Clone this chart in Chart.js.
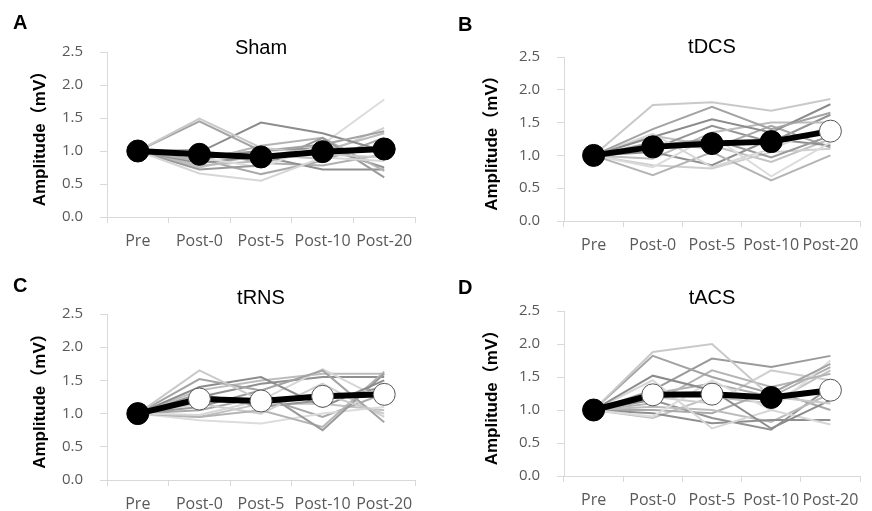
<!DOCTYPE html>
<html>
<head>
<meta charset="utf-8">
<script src="https://cdn.jsdelivr.net/npm/chart.js@4/dist/chart.umd.min.js"></script>
<style>
  html, body { margin: 0; padding: 0; background: #fff; }
  #wrap { position: relative; width: 872px; height: 511px; overflow: hidden; }
  .panel { position: absolute; width: 436px; height: 255px; }
  .letter { position: absolute; font: bold 20px "Liberation Sans", Arial, sans-serif; line-height: 20px; color: #000; }
</style>
</head>
<body>
<div id="wrap">
  <div class="panel" style="left:0;top:0"><canvas id="chartA" width="436" height="255"></canvas></div>
  <div class="panel" style="left:436px;top:0"><canvas id="chartB" width="436" height="255"></canvas></div>
  <div class="panel" style="left:0;top:255px"><canvas id="chartC" width="436" height="255"></canvas></div>
  <div class="panel" style="left:436px;top:255px"><canvas id="chartD" width="436" height="255"></canvas></div>
  <div class="letter" style="left:13px;top:12px">A</div>
  <div class="letter" style="left:458px;top:14px">B</div>
  <div class="letter" style="left:13px;top:275px">C</div>
  <div class="letter" style="left:458px;top:277px">D</div>
</div>
<script>
const categories = ["Pre", "Post-0", "Post-5", "Post-10", "Post-20"];
const yTitle = "Amplitude（mV）";

// group means (thick black line); true = filled black marker, false = open white marker
const shamMean = [1.0, 0.95, 0.91, 0.99, 1.03];
const shamFilled = [true, true, true, true, true];
const tdcsMean = [1.0, 1.13, 1.18, 1.21, 1.37];
const tdcsFilled = [true, true, true, true, false];
const trnsMean = [1.0, 1.22, 1.19, 1.26, 1.29];
const trnsFilled = [true, false, false, false, false];
const tacsMean = [1.0, 1.23, 1.24, 1.19, 1.30];
const tacsFilled = [true, false, false, true, false];

// individual subjects (thin grey lines)
const shamSubjects = [
  [1.0, 1.49, 1.05, 0.95, 0.90],
  [1.0, 1.45, 1.00, 1.10, 1.30],
  [1.0, 0.98, 1.43, 1.27, 1.00],
  [1.0, 0.66, 0.55, 0.90, 0.85],
  [1.0, 0.72, 0.78, 1.20, 0.60],
  [1.0, 0.85, 1.08, 1.20, 0.70],
  [1.0, 0.90, 0.75, 1.10, 1.78],
  [1.0, 0.82, 0.92, 0.72, 0.72],
  [1.0, 0.78, 0.85, 1.00, 1.27],
  [1.0, 0.95, 0.88, 0.95, 1.35],
  [1.0, 0.88, 0.65, 0.85, 1.20],
  [1.0, 0.92, 1.00, 1.05, 0.75],
  [1.0, 0.75, 0.95, 0.88, 1.10],
  [1.0, 1.02, 0.82, 0.78, 0.95]
];
const tdcsSubjects = [
  [1.0, 1.77, 1.81, 1.68, 1.86],
  [1.0, 1.40, 1.74, 1.40, 1.65],
  [1.0, 1.28, 1.55, 1.35, 1.78],
  [1.0, 1.33, 0.82, 1.10, 1.45],
  [1.0, 1.15, 1.25, 0.97, 1.30],
  [1.0, 0.70, 1.05, 0.62, 1.00],
  [1.0, 0.82, 1.30, 0.68, 1.20],
  [1.0, 1.05, 0.85, 1.25, 1.15],
  [1.0, 0.95, 1.35, 1.50, 1.50],
  [1.0, 0.85, 0.80, 1.05, 1.10],
  [1.0, 1.20, 1.10, 1.45, 1.12],
  [1.0, 1.10, 1.45, 1.20, 1.62],
  [1.0, 1.30, 1.15, 0.90, 1.25]
];
const trnsSubjects = [
  [1.0, 1.65, 1.20, 1.30, 1.00],
  [1.0, 1.52, 1.35, 1.65, 0.87],
  [1.0, 1.40, 1.55, 1.10, 1.50],
  [1.0, 0.98, 1.20, 1.67, 1.20],
  [1.0, 1.10, 1.35, 0.75, 1.60],
  [1.0, 0.95, 1.05, 0.80, 1.63],
  [1.0, 0.90, 0.85, 1.00, 1.10],
  [1.0, 1.25, 1.45, 1.55, 1.55],
  [1.0, 1.35, 1.50, 1.60, 1.60],
  [1.0, 1.15, 1.00, 1.45, 0.95],
  [1.0, 1.05, 1.25, 0.95, 1.30],
  [1.0, 1.30, 1.10, 1.20, 1.40],
  [1.0, 0.95, 1.15, 1.15, 1.05]
];
const tacsSubjects = [
  [1.0, 1.88, 2.00, 1.20, 1.10],
  [1.0, 1.82, 1.50, 1.25, 1.70],
  [1.0, 1.52, 1.30, 0.72, 1.15],
  [1.0, 1.45, 0.72, 1.00, 0.78],
  [1.0, 1.30, 1.78, 1.65, 1.82],
  [1.0, 1.10, 1.60, 1.35, 1.55],
  [1.0, 0.90, 1.45, 1.00, 1.75],
  [1.0, 0.95, 0.80, 0.85, 0.85],
  [1.0, 1.05, 1.00, 0.82, 1.25],
  [1.0, 1.20, 1.10, 1.60, 1.45],
  [1.0, 1.00, 0.95, 1.30, 1.00],
  [1.0, 1.15, 0.88, 0.70, 1.35],
  [1.0, 0.88, 1.20, 1.10, 1.60],
  [1.0, 1.25, 1.40, 1.20, 1.65]
];

const shades = ["#c9c9c9", "#a3a3a3", "#8c8c8c", "#d6d6d6", "#9a9a9a", "#b4b4b4",
  "#dcdcdc", "#8f8f8f", "#bcbcbc", "#cfcfcf", "#a9a9a9", "#939393", "#c2c2c2", "#b0b0b0"];

function makePanel(id, title, mean, filled, subjects, box) {
  const datasets = [{
    data: mean,
    borderColor: "#000",
    borderWidth: 6,
    pointRadius: 11,
    pointBackgroundColor: filled.map(f => f ? "#000" : "#fff"),
    pointBorderColor: filled.map(f => f ? "#000" : "#555"),
    pointBorderWidth: 1
  }];
  subjects.forEach((s, i) => {
    datasets.push({ data: s, borderColor: shades[i % shades.length], borderWidth: 2, pointRadius: 0 });
  });

  const titlePlugin = {
    id: "panelTitle",
    afterDraw(chart) {
      const ctx = chart.ctx, a = chart.chartArea;
      ctx.save();
      ctx.font = '20px "Liberation Sans", Arial, sans-serif';
      ctx.fillStyle = "#000";
      ctx.textAlign = "center";
      ctx.textBaseline = "middle";
      ctx.fillText(title, (a.left + a.right) / 2, box.titleY);
      ctx.restore();
    }
  };

  new Chart(document.getElementById(id), {
    type: "line",
    data: { labels: categories, datasets },
    options: {
      responsive: false,
      animation: false,
      events: [],
      elements: { line: { tension: 0 } },
      layout: { padding: { left: 0, top: box.top, right: 436 - box.right, bottom: 0 } },
      plugins: { legend: { display: false }, tooltip: { enabled: false } },
      scales: {
        x: {
          offset: true,
          grid: { offset: true, drawOnChartArea: false, tickLength: 6, color: "#d9d9d9" },
          border: { color: "#d9d9d9" },
          ticks: { color: "#595959", font: { family: '"Open Sans", sans-serif', size: 16 }, padding: 9, maxRotation: 0, autoSkip: false },
          afterFit: s => { s.height = 255 - box.bottom; }
        },
        y: {
          min: 0,
          max: 2.5,
          grid: { drawOnChartArea: false, tickLength: 7, color: "#d9d9d9" },
          border: { color: "#d9d9d9" },
          ticks: { stepSize: 0.5, color: "#595959", padding: 17,
            font: { family: '"Open Sans", sans-serif', size: 15 },
            callback: v => v.toFixed(1) },
          title: { display: true, text: yTitle, color: "#000",
            font: { family: '"Liberation Sans", Arial, "Noto Sans CJK JP", sans-serif', size: 17, weight: "bold" },
            padding: { top: box.titlePad, bottom: 0 } },
          afterFit: s => { s.width = box.left; }
        }
      }
    },
    plugins: [titlePlugin]
  });
}

makePanel("chartA", "Sham", shamMean, shamFilled, shamSubjects,
  { left: 107, top: 52, right: 415, bottom: 217, titleY: 48, titlePad: 30 });
makePanel("chartB", "tDCS", tdcsMean, tdcsFilled, tdcsSubjects,
  { left: 128, top: 57, right: 435, bottom: 221, titleY: 47, titlePad: 46 });
makePanel("chartC", "tRNS", trnsMean, trnsFilled, trnsSubjects,
  { left: 107, top: 59, right: 415, bottom: 225, titleY: 43, titlePad: 30 });
makePanel("chartD", "tACS", tacsMean, tacsFilled, tacsSubjects,
  { left: 128, top: 56, right: 435, bottom: 221, titleY: 43, titlePad: 46 });
</script>
</body>
</html>
